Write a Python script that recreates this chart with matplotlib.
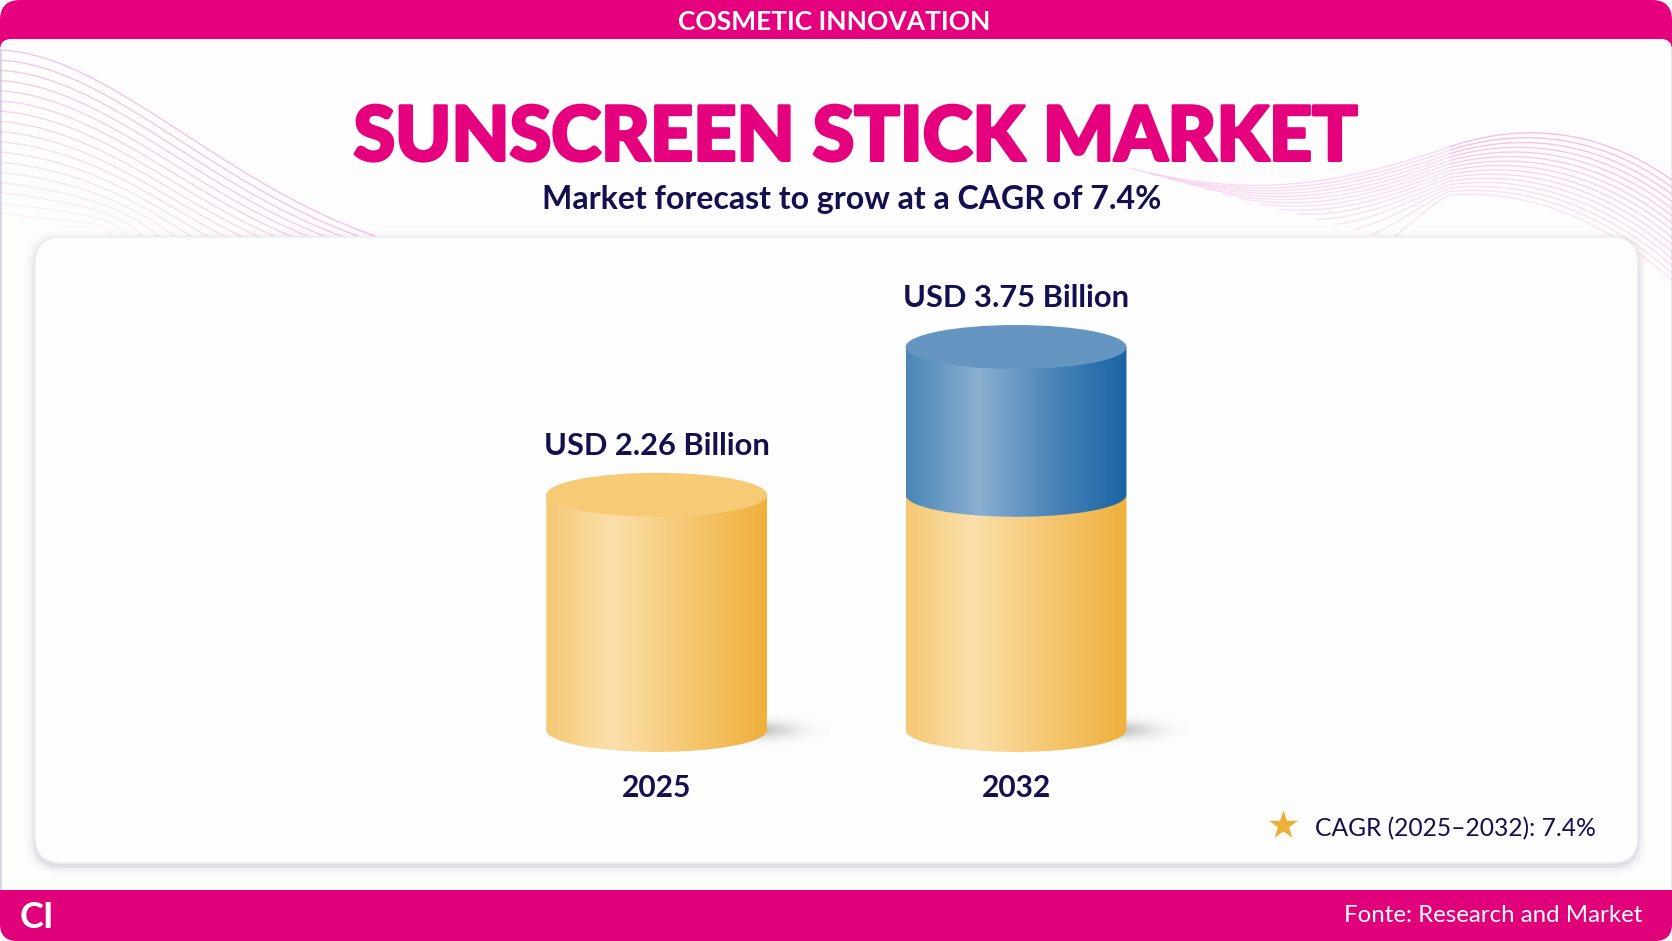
#sunscreen_stick_market.py
import numpy as np
import matplotlib
matplotlib.use('Agg')
import matplotlib.pyplot as plt
import matplotlib.patheffects as pe
from matplotlib.colors import LinearSegmentedColormap
from matplotlib.patches import FancyBboxPatch, Ellipse, Polygon, Rectangle, PathPatch
from matplotlib.path import Path

years = ['2025', '2032']
base_values = [2.26, 2.26]   # yellow part of each cylinder [USD bn]
top_values = [0.0, 1.49]     # blue part on top of it
total_labels = ['USD 2.26 Billion', 'USD 3.75 Billion']

main_title = 'SUNSCREEN STICK MARKET'
sub_title = 'Market forecast to grow at a CAGR of 7.4%'
banner = 'COSMETIC INNOVATION'
cagr_note = 'CAGR (2025\u20132032): 7.4%'
source_note = 'Fonte: Research and Market'

W, H = 1672, 941
PINK = '#E5007E'
PINK2 = '#E0007A'
NAVY = '#14104F'
plt.rcParams['font.family'] = ['Lato', 'DejaVu Sans']

yellow_map = LinearSegmentedColormap.from_list('yel', [(0, '#F5C873'), (0.3, '#FBE0AC'), (0.6, '#F6CA78'), (1, '#EFB03C')])
blue_map = LinearSegmentedColormap.from_list('blu', [(0, '#4A86B8'), (0.33, '#8AAFD1'), (0.65, '#4C86BA'), (1, '#1B64A5')])

fig = plt.figure(figsize=(W / 100, H / 100), dpi=100, facecolor='white')

# page furniture in pixel coordinates
bg = fig.add_axes([0, 0, 1, 1], zorder=0)
bg.set_xlim(0, W)
bg.set_ylim(H, 0)
bg.axis('off')

bg.add_patch(FancyBboxPatch((0, 0), W, 120, boxstyle='round,pad=0,rounding_size=20', fc=PINK, ec='none', zorder=1))
bg.add_patch(FancyBboxPatch((0, 39), W, 890, boxstyle='round,pad=0,rounding_size=11', fc='#FDFDFE', ec='none', zorder=2))
foot = FancyBboxPatch((0, 840), W, 101, boxstyle='round,pad=0,rounding_size=17', fc=PINK2, ec='none', zorder=6)
bg.add_patch(foot)
foot.set_clip_path(Rectangle((0, 890), W, 51, transform=bg.transData))
bg.plot([0.5, 0.5], [50, 890], color='#CFCFDC', lw=1.2, zorder=3)
bg.plot([W - 0.5, W - 0.5], [50, 890], color='#E4E4EC', lw=1.2, zorder=3)


def wave(points, color, alpha):
    codes = [Path.MOVETO] + [Path.CURVE4] * (len(points) - 1)
    bg.add_patch(PathPatch(Path(points, codes), fc='none', ec=color, lw=1.0, alpha=alpha, zorder=3))


# left wave decoration
for k in np.linspace(0, 1, 17):
    y0 = 50 + k * 163
    pts = [(0, y0), (110 - 30 * k, y0 + 5 + 6 * k), (215 - 100 * k, 180 + 40 * k), (375 - 265 * k, 236 + 2 * k)]
    wave(pts, '#F6A8E0', 0.7 - 0.55 * k)

# right wave decoration, left tail is fainter than the crest
for k in np.linspace(0, 1, 15):
    mid = (1449, 147 + 48 * k)
    tail = [(1130 + 260 * k, 168 + 72 * k), (1250 + 160 * k, 200 + 25 * k), (1340 + 90 * k, 185 + 20 * k), mid]
    crest = [mid, (1510, 126 + 64 * k), (1590, 122 + 85 * k), (W, 180 + 100 * k)]
    wave(tail, '#F6A8E0', 0.42 - 0.12 * k)
    wave(crest, '#F6A8E0', 0.75 - 0.45 * k)

# white card with soft shadow
for grow, a in zip([9, 7, 5, 3, 1.5], [0.010, 0.014, 0.02, 0.03, 0.05]):
    bg.add_patch(FancyBboxPatch((35 - grow, 237 - grow + 3), 1603 + 2 * grow, 626 + 2 * grow,
                                boxstyle='round,pad=0,rounding_size=%d' % (26 + grow),
                                fc='#303048', ec='none', alpha=a, zorder=4))
bg.add_patch(FancyBboxPatch((35, 237), 1603, 626, boxstyle='round,pad=0,rounding_size=26',
                            fc='#FDFDFD', ec='#ECECEF', lw=1, zorder=5))

bg.text(834.5, 22, banner, color='white', fontsize=19, fontweight='bold', ha='center', va='center', zorder=8)
bg.text(855.5, 139, main_title, color=PINK, fontsize=54.3, fontweight='black', ha='center', va='center', zorder=8,
        path_effects=[pe.withStroke(linewidth=2.2, foreground=PINK)])
bg.text(852, 199, sub_title, color=NAVY, fontsize=23, fontweight='bold', ha='center', va='center', zorder=8)
bg.text(20, 917, 'CI', color='white', fontsize=26, fontweight='bold', ha='left', va='center', zorder=8)
bg.text(1642, 916, source_note, color='white', fontsize=17.3, ha='right', va='center', zorder=8)
bg.text(1315, 829, cagr_note, color=NAVY, fontsize=17.7, ha='left', va='center', zorder=8)

# chart axes: y=0 sits at pixel row 719, the axes run on down to row 741
px_per_unit = 99.2
px_per_cat = 359.25
zero_row = 719
left, right, top, bottom = 35, 1638, 237, 741
ax = fig.add_axes([left / W, 1 - bottom / H, (right - left) / W, (bottom - top) / H], zorder=1)
ax.patch.set_visible(False)
for s in ax.spines.values():
    s.set_visible(False)
xlim = ((left - 656.75) / px_per_cat, (right - 656.75) / px_per_cat)
ylim = ((zero_row - bottom) / px_per_unit, (zero_row - top) / px_per_unit)

floor = -0.11                # cylinder side walls stop here
cyl_width = 0.615
cap_h = 44 / px_per_unit     # full height of the elliptical caps


def body(x, y0, y1, cmap, z):
    th = np.linspace(np.pi, 2 * np.pi, 60)
    xs = x + cyl_width / 2 * np.cos(th)
    ys = y0 + cap_h / 2 * np.sin(th)
    verts = np.vstack([np.column_stack([xs, ys]), [x + cyl_width / 2, y1], [x - cyl_width / 2, y1]])
    grad = np.linspace(0, 1, 256)[None, :]
    im = ax.imshow(grad, extent=[x - cyl_width / 2, x + cyl_width / 2, y0 - cap_h / 2, y1], cmap=cmap,
                   aspect='auto', zorder=z)
    im.set_clip_box(fig.bbox)
    im.set_clip_path(Polygon(verts, transform=ax.transData))


def ground_shadow(x):
    gx = np.linspace(-1, 1, 120)
    xx, yy = np.meshgrid(gx, gx)
    rgba = np.zeros((120, 120, 4))
    rgba[..., :3] = 0.35
    rgba[..., 3] = 0.34 * np.exp(-(xx ** 2 + yy ** 2) * 3.5)
    cx = x + cyl_width / 2 - 0.03
    ax.imshow(rgba, extent=[cx - 0.2, cx + 0.2, floor - 0.16, floor + 0.16], aspect='auto', zorder=1, clip_on=False)


xpos = np.arange(len(years))
for i, x in enumerate(xpos):
    ground_shadow(x)
    y_mid = base_values[i]
    body(x, floor, y_mid, yellow_map, 2)
    total = y_mid + top_values[i]
    if top_values[i] > 0:
        body(x, y_mid, total, blue_map, 3)
        cap = '#6596C1'
    else:
        cap = '#F7CB76'
    ax.add_patch(Ellipse((x, total), cyl_width, cap_h, fc=cap, ec='none', zorder=4))
    ax.annotate(total_labels[i], (x, total), xytext=(0, 35.5), textcoords='offset points', ha='center',
                va='center', color=NAVY, fontsize=22.2, fontweight='bold', zorder=6)

ax.set_xlim(xlim)
ax.set_ylim(ylim)
ax.set_yticks([])
ax.set_xticks(xpos)
ax.set_xticklabels(years, color=NAVY, fontsize=21.5, fontweight='bold')
ax.tick_params(axis='x', length=0, pad=24)

bg.scatter([1283], [825], marker='*', s=480, color='#EDAE3A', linewidths=0, zorder=8)

fig.savefig('out.png', dpi=100)
